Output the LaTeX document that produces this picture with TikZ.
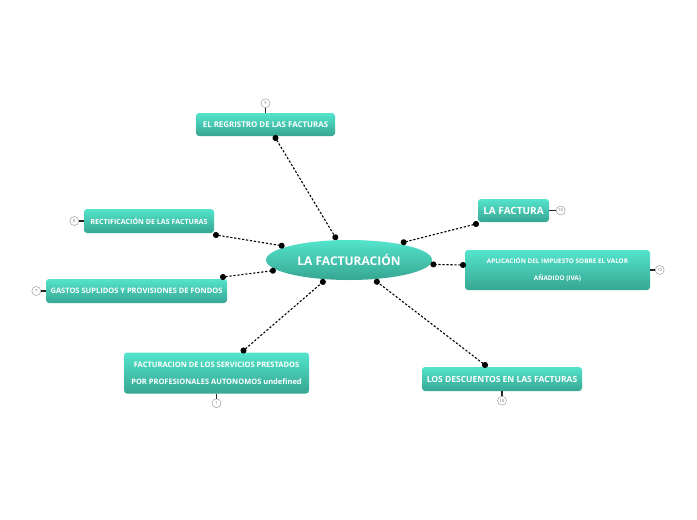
\documentclass[tikz,border=0pt]{standalone}
\usepackage{fontspec}
\setmainfont{Open Sans}
\usetikzlibrary{positioning,arrows.meta,shapes.geometric}
\definecolor{tealtop}{RGB}{84,228,204}
\definecolor{tealbot}{RGB}{54,166,146}
\tikzset{
  topic/.style={rounded corners=3pt, top color=tealtop, bottom color=tealbot,
    text=white, inner sep=0pt, outer sep=2pt, align=center},
  sz/.style={font=\fontsize{#1}{17}\selectfont\bfseries},
  link/.style={line width=1.1pt, dash pattern=on 2.2pt off 1.8pt,
    {Circle[length=6pt]}-{Circle[length=6pt]}, shorten <=-3pt, shorten >=-3pt},
  num/.style={circle, draw=black!45, fill=white, minimum size=9pt, inner sep=0pt,
    text=black!60, font=\fontsize{4}{4}\selectfont},
  numline/.style={line width=1.1pt, black!85, shorten <=-2pt}
}

\begin{document}
\begin{tikzpicture}[x=1pt,y=-1pt]
  \useasboundingbox (0,0) rectangle (697,520);
  \node[ellipse, top color=tealtop, bottom color=tealbot, minimum width=166pt,
    minimum height=40pt, inner sep=0pt, outer sep=3pt, text=white, sz=12]
    (main) at (349,260) {LA FACTURACIÓN};

  \node[topic, sz=7.9, minimum width=139pt, minimum height=23pt] (reg) at
    (265.5,124.5) {EL REGRISTRO DE LAS FACTURAS};
  \node[topic, sz=10, minimum width=71pt, minimum height=23pt] (lafac) at
    (513.5,210.5) {LA FACTURA};
  \node[topic, sz=6.4, minimum width=185pt, minimum height=40pt] (apl) at
    (557.5,270) {APLICACIÓN DEL IMPUESTO SOBRE EL VALOR\\AÑADIDO (IVA)};
  \node[topic, sz=7.1, minimum width=130pt, minimum height=24pt] (rect) at
    (149,221) {RECTIFICACIÓN DE LAS FACTURAS};
  \node[topic, sz=7.5, minimum width=181pt, minimum height=24pt] (gas) at
    (136.5,291) {GASTOS SUPLIDOS Y PROVISIONES DE FONDOS};
  \node[topic, sz=7.5, minimum width=185pt, minimum height=41pt] (fac) at
    (216.5,373) {FACTURACION DE LOS SERVICIOS PRESTADOS\\POR PROFESIONALES AUTONOMOS undefined};
  \node[topic, sz=8.5, minimum width=160pt, minimum height=24pt] (desc) at
    (502,379) {LOS DESCUENTOS EN LAS FACTURAS};

  \node[num, above=3pt of reg] (n9) {9};
  \node[num, right=5pt of lafac] (n16) {16};
  \node[num, right=3pt of apl] (n13) {13};
  \node[num, left=3pt of rect] (n8) {8};
  \node[num, left=3pt of gas] (n7) {7};
  \node[num, below=3pt of fac] (n1) {1};
  \node[num, below=3pt of desc] (n10) {10};
  \draw[numline] (reg.north) -- (n9.south); \draw[numline] (lafac.east) -- (n16.west);
  \draw[numline] (apl.east) -- (n13.west); \draw[numline] (rect.west) -- (n8.east);
  \draw[numline] (gas.west) -- (n7.east); \draw[numline] (fac.south) -- (n1.north);
  \draw[numline] (desc.south) -- (n10.north);

  \draw[link] ([xshift=10pt]reg.south) -- (main.121);
  \draw[link] (lafac.south west) -- (main.18);
  \draw[link] ([yshift=5pt]apl.west) -- (main.-3);
  \draw[link] (rect.south east) -- (main.168);
  \draw[link] ([xshift=-6pt]gas.north east) -- (main.188);
  \draw[link] ([xshift=27pt]fac.north) -- (main.220);
  \draw[link] ([xshift=-17pt]desc.north) -- (main.322);
\end{tikzpicture}
\end{document}
